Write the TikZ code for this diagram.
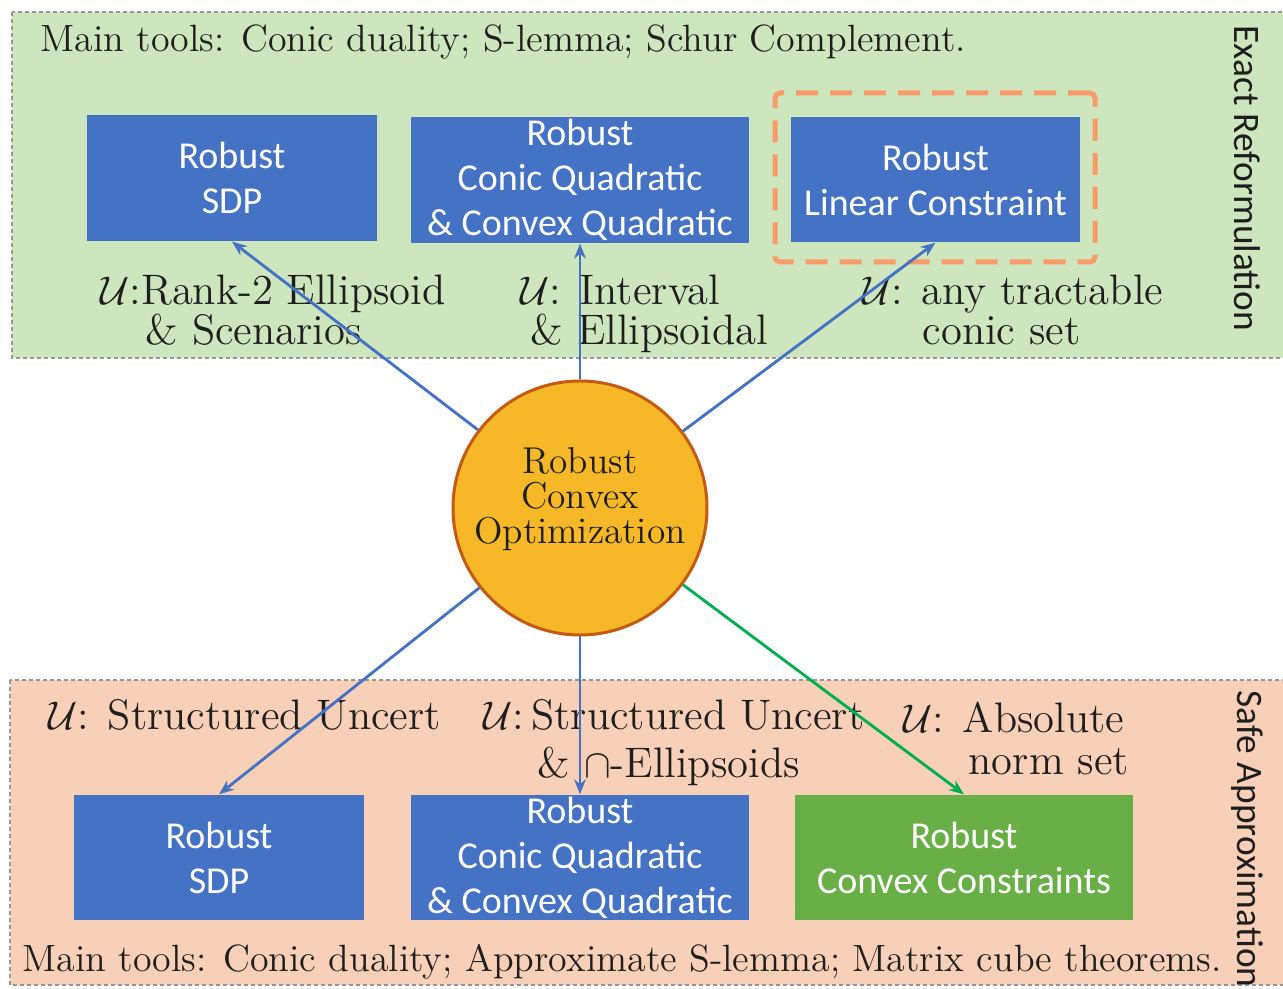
\documentclass[tikz,border=0pt]{standalone}
\usepackage{amsmath,amssymb}
\usepackage{fontspec}
\newfontfamily\boxfont{Carlito}
\usetikzlibrary{arrows.meta,calc}
\definecolor{panelgreen}{RGB}{205,230,190}
\definecolor{panelpeach}{RGB}{248,208,184}
\definecolor{boxblue}{RGB}{68,114,196}
\definecolor{boxgreen}{RGB}{104,176,70}
\definecolor{arrgreen}{RGB}{0,176,80}
\definecolor{circfill}{RGB}{246,184,38}
\definecolor{circdraw}{RGB}{197,90,17}
\definecolor{hilite}{RGB}{250,155,105}
\definecolor{txt}{RGB}{30,30,30}
\tikzset{
  panel/.style={draw={rgb,255:red,150;green,150;blue,150}, line width=0.45pt, dash pattern=on 1.2pt off 0.9pt},
  bbox/.style={fill=boxblue, draw=none, text=white, align=center, font=\boxfont\fontsize{11.4}{13.5}\selectfont, inner sep=0pt},
  gbox/.style={bbox, fill=boxgreen},
  lbl/.style={anchor=base west, inner sep=0pt, text=txt, font=\fontsize{12.8}{12}\selectfont},
  tools/.style={anchor=base west, inner sep=0pt, text=txt, font=\fontsize{11.4}{12}\selectfont},
  side/.style={rotate=-90, anchor=west, inner sep=0pt, text=txt, font=\boxfont\fontsize{11.2}{12}\selectfont},
  conn/.style={line width=0.85pt, draw=boxblue, -{Stealth[length=4.5pt,width=3.5pt]}},
  gconn/.style={conn, draw=arrgreen, -{Stealth[length=4.5pt,width=3.5pt]}}
}
\begin{document}
\begin{tikzpicture}[x=0.3pt,y=-0.3pt]
\useasboundingbox[fill=white] (0,0) rectangle (1283,989);
% panels
\draw[panel, fill=panelgreen] (12,12) rectangle (1295,358);
\draw[panel, fill=panelpeach] (10,680) rectangle (1295,985);
% top texts
\node[tools] (mt1) at (40,52) {Main tools: Conic duality; S-lemma; Schur Complement.};
\node[side] (er) at (1247,25) {Exact Reformulation};
% top boxes
\node[bbox, minimum width=87pt, minimum height=37.8pt] (t1) at (232,178) {Robust\\SDP};
\node[bbox, minimum width=101.4pt, minimum height=37.8pt] (t2) at (580,180) {Robust\\Conic Quadratic\\\& Convex Quadratic};
\node[bbox, minimum width=86.7pt, minimum height=37.5pt] (t3) at (935.5,179.5) {Robust\\Linear Constraint};
\node[draw=hilite, line width=1.5pt, dash pattern=on 6.6pt off 3.6pt, rounded corners=1.5pt, minimum width=96pt, minimum height=50.7pt, inner sep=0pt] (hl) at (935,177.5) {};
% top labels
\node[lbl] (l1a) at (100,305) {$\mathcal{U}$:Rank-2 Ellipsoid};
\node[lbl] (l1b) at (145,345) {\& Scenarios};
\node[lbl] (l2a) at (520,305) {$\mathcal{U}$: Interval};
\node[lbl] (l2b) at (530,345) {\& Ellipsoidal};
\node[lbl] (l3a) at (862,305) {$\mathcal{U}$: any tractable};
\node[lbl] (l3b) at (922,345) {conic set};
% bottom texts
\node[side] (sa) at (1247,690) {Safe Approximation};
\node[tools] (mt2) at (22,972) {Main tools: Conic duality; Approximate S-lemma; Matrix cube theorems.};
\node[lbl] (b1a) at (48,730) {$\mathcal{U}$: Structured Uncert};
\node[lbl] (b2a) at (483,730) {$\mathcal{U}$:\,Structured Uncert};
\node[lbl] (b2b) at (537,778) {\& $\cap$-Ellipsoids};
\node[lbl] (b3a) at (903,733) {$\mathcal{U}$: Absolute};
\node[lbl] (b3b) at (968,775) {norm set};
% bottom boxes
\node[bbox, minimum width=87pt, minimum height=37.5pt] (s1) at (219,857.5) {Robust\\SDP};
\node[bbox, minimum width=101.4pt, minimum height=37.5pt] (s2) at (580,857.5) {Robust\\Conic Quadratic\\\& Convex Quadratic};
\node[gbox, minimum width=101.4pt, minimum height=37.5pt] (s3) at (964,857.5) {Robust\\Convex Constraints};
% circle
\node[circle, fill=circfill, draw=circdraw, line width=0.9pt, minimum size=76.2pt, inner sep=0pt] (c) at (580,508) {};
\node[align=center, inner sep=0pt, text=txt, font=\fontsize{11.2}{10.5}\selectfont] (ct) at (580,499) {Robust\\Convex\\Optimization};
% connectors
\draw[conn] (c) -- (t1.south);
\draw[conn] (c) -- (t2.south);
\draw[conn] (c) -- (t3.south);
\draw[conn] (c) -- (s1.north);
\draw[conn] (c) -- (s2.north);
\draw[gconn] (c) -- (s3.north);
\end{tikzpicture}
\end{document}
